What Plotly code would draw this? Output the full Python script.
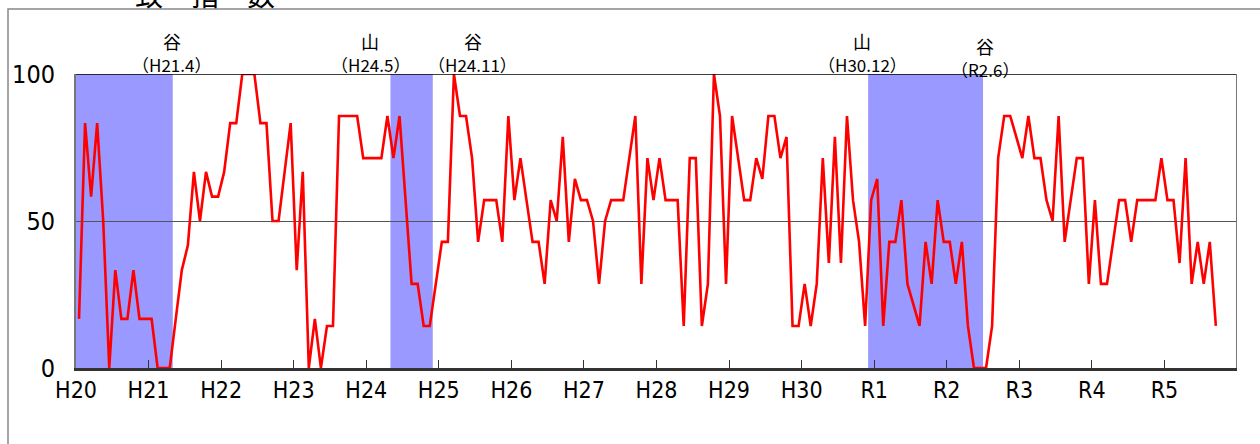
import plotly.graph_objects as go

# ---- data -------------------------------------------------------------
start_year = 2008  # H20.1
di_values = [
    16.7, 83.3, 58.3, 83.3, 50.0, 0.0, 33.3, 16.7, 16.7, 33.3, 16.7, 16.7,
    16.7, 0.0, 0.0, 0.0, 16.7, 33.3, 41.7, 66.7, 50.0, 66.7, 58.3, 58.3,
    66.7, 83.3, 83.3, 100.0, 100.0, 100.0, 83.3, 83.3, 50.0, 50.0, 66.7, 83.3,
    33.3, 66.7, 0.0, 16.7, 0.0, 14.3, 14.3, 85.7, 85.7, 85.7, 85.7, 71.4,
    71.4, 71.4, 71.4, 85.7, 71.4, 85.7, 57.1, 28.6, 28.6, 14.3, 14.3, 28.6,
    42.9, 42.9, 100.0, 85.7, 85.7, 71.4, 42.9, 57.1, 57.1, 57.1, 42.9, 85.7,
    57.1, 71.4, 57.1, 42.9, 42.9, 28.6, 57.1, 50.0, 78.6, 42.9, 64.3, 57.1,
    57.1, 50.0, 28.6, 50.0, 57.1, 57.1, 57.1, 71.4, 85.7, 28.6, 71.4, 57.1,
    71.4, 57.1, 57.1, 57.1, 14.3, 71.4, 71.4, 14.3, 28.6, 100.0, 85.7, 28.6,
    85.7, 71.4, 57.1, 57.1, 71.4, 64.3, 85.7, 85.7, 71.4, 78.6, 14.3, 14.3,
    28.6, 14.3, 28.6, 71.4, 35.7, 78.6, 35.7, 85.7, 57.1, 42.9, 14.3, 57.1,
    64.3, 14.3, 42.9, 42.9, 57.1, 28.6, 21.4, 14.3, 42.9, 28.6, 57.1, 42.9,
    42.9, 28.6, 42.9, 14.3, 0.0, 0.0, 0.0, 14.3, 71.4, 85.7, 85.7, 78.6,
    71.4, 85.7, 71.4, 71.4, 57.1, 50.0, 85.7, 42.9, 57.1, 71.4, 71.4, 28.6,
    57.1, 28.6, 28.6, 42.9, 57.1, 57.1, 42.9, 57.1, 57.1, 57.1, 57.1, 71.4,
    57.1, 57.1, 35.7, 71.4, 28.6, 42.9, 28.6, 42.9, 14.3,
]
year_labels = ["H20", "H21", "H22", "H23", "H24", "H25", "H26", "H27",
               "H28", "H29", "H30", "R1", "R2", "R3", "R4", "R5"]
# recession periods: (first month, last month) as (year, month)
recession_start = [(2008, 1), (2012, 5), (2018, 12)]
recession_end = [(2009, 4), (2012, 11), (2020, 6)]
turning_kind = ["谷", "山", "谷", "山", "谷"]
turning_label = ["（H21.4）", "（H24.5）", "（H24.11）", "（H30.12）", "（R2.6）"]
turning_month = [(2009, 4), (2012, 5), (2012, 11), (2018, 12), (2020, 6)]
title_text = "一　致　指　数"


def midx(ym):
    return (ym[0] - start_year) * 12 + (ym[1] - 1)


n_months = len(year_labels) * 12
x_idx = list(range(len(di_values)))

NARROW = "Liberation Sans Narrow, Arial Narrow, DejaVu Sans Condensed, Liberation Sans, Arial, sans-serif"
CJK = "Noto Sans CJK JP, Noto Sans CJK SC, sans-serif"

fig = go.Figure()
fig.add_trace(go.Scatter(
    x=x_idx, y=di_values, mode="lines",
    line=dict(color="#FF0000", width=2.6),
    hoverinfo="skip", showlegend=False, cliponaxis=False,
))

shapes = []
for s, e in zip(recession_start, recession_end):
    shapes.append(dict(type="rect", xref="x", yref="y",
                       x0=midx(s) - 0.5, x1=midx(e) + 0.5, y0=0, y1=100,
                       fillcolor="#9999FF", line=dict(width=0), layer="below"))
# top border (black) and right border (gray)
shapes.append(dict(type="line", xref="x", yref="y", x0=-0.5, x1=n_months - 0.5,
                   y0=100, y1=100, line=dict(color="#000000", width=1.5)))
shapes.append(dict(type="line", xref="x", yref="y", x0=n_months - 0.5, x1=n_months - 0.5,
                   y0=0, y1=100, line=dict(color="#777777", width=2)))
# outer chart frame
shapes.append(dict(type="rect", xref="paper", yref="paper",
                   x0=(8 - 76) / 1161, x1=(1280 - 76) / 1161,
                   y0=1 - (470 - 74) / 294, y1=1 + (74 - 9) / 294,
                   line=dict(color="#888888", width=1.5), fillcolor="rgba(0,0,0,0)",
                   layer="below"))

# label placement offsets (px) relative to the turning month
label_xshift = [2, -23, 43, -9, 5]
label_low = [0, 0, 0, 0, 1]

annotations = []
for k, lab, ym, dx, low in zip(turning_kind, turning_label, turning_month,
                               label_xshift, label_low):
    xi = midx(ym)
    annotations.append(dict(x=xi, y=100, xref="x", yref="y", text=k, showarrow=False,
                            xshift=dx, yshift=33 - 5 * low, xanchor="center", yanchor="middle",
                            font=dict(family=CJK, size=18, color="#000")))
    annotations.append(dict(x=xi, y=100, xref="x", yref="y", text=lab, showarrow=False,
                            xshift=dx, yshift=10 - 5 * low, xanchor="center", yanchor="middle",
                            font=dict(family=CJK, size=17, color="#000")))
annotations.append(dict(x=(177 - 76) / 1161, y=1 + (74 + 6) / 294, xref="paper", yref="paper",
                        text=title_text, showarrow=False, xanchor="center", yanchor="middle",
                        font=dict(family=CJK, size=28, color="#000")))

fig.update_layout(
    width=1260, height=444,
    margin=dict(l=76, r=23, t=74, b=76, autoexpand=False),
    plot_bgcolor="white", paper_bgcolor="white",
    shapes=shapes, annotations=annotations,
    xaxis=dict(
        range=[-0.5, n_months - 0.5], tickmode="array",
        tickvals=[12 * k - 0.5 for k in range(len(year_labels) + 1)],
        ticktext=year_labels + [""],
        ticks="inside", ticklen=8, tickcolor="#333", tickwidth=1,
        showline=True, linecolor="#333333", linewidth=2.5,
        showgrid=False, zeroline=False, automargin=False,
        tickfont=dict(family=NARROW, size=23, color="#000"),
        ticklabelstandoff=0,
    ),
    yaxis=dict(
        range=[0, 100], tickmode="array", tickvals=[0, 50, 100],
        ticks="inside", ticklen=6, tickcolor="#555",
        showline=True, linecolor="#777777", linewidth=2,
        showgrid=True, gridcolor="#555555", gridwidth=1, zeroline=False,
        automargin=False,
        tickfont=dict(family=NARROW, size=25, color="#000"),
        ticklabelstandoff=14,
    ),
)

fig.write_html("out.html", config={"displayModeBar": False},
               post_script="document.body.style.margin='0px';")
